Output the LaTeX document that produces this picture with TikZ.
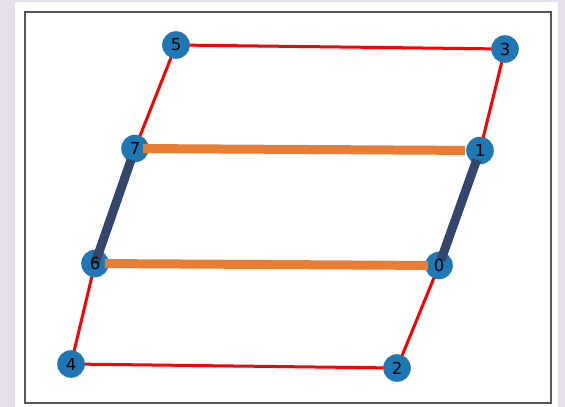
\documentclass[tikz,border=0pt]{standalone}
\usepackage{fontspec}
\setmainfont{DejaVu Sans}
\definecolor{lav}{HTML}{E4DFEB}
\definecolor{nodeblue}{HTML}{1F77B4}
\definecolor{darkedge}{HTML}{34466B}
\definecolor{orangeedge}{HTML}{E87D33}
\definecolor{framegray}{HTML}{555555}
\begin{document}
\begin{tikzpicture}[x=1pt,y=-1pt,
  rededge/.style={red,line width=3pt},
  darkbar/.style={darkedge,line width=9pt},
  orangebar/.style={orangeedge,line width=9pt},
  vlabel/.style={font=\fontsize{16.5}{16.5}\selectfont,inner sep=0pt}]
\useasboundingbox (0,0) rectangle (565,407);
\fill[lav] (0,0) rectangle (565,407);
\fill[white] (15,2) rectangle (558,407);
\draw[framegray,line width=1.4pt] (25,12) rectangle (551,403);
% coordinates
\coordinate (p0) at (439,265.5);
\coordinate (p1) at (480,150.5);
\coordinate (p2) at (397,368);
\coordinate (p3) at (505,49);
\coordinate (p4) at (71,364);
\coordinate (p5) at (176,45);
\coordinate (p6) at (95,263.5);
\coordinate (p7) at (135,148.5);
% red edges
\draw[rededge] (p5) -- (p3);
\draw[rededge] (p5) -- (p7);
\draw[rededge] (p3) -- (p1);
\draw[rededge] (p1) -- (p0);
\draw[rededge] (p7) -- (p6);
\draw[rededge] (p6) -- (p4);
\draw[rededge] (p4) -- (p2);
\draw[rededge] (p2) -- (p0);
% nodes
\foreach \i in {0,...,7} {\fill[nodeblue] (p\i) circle (13.8);}
% highlighted edges
\draw[orangebar,shorten <=8pt,shorten >=15pt] (p7) -- (p1);
\draw[orangebar,shorten <=10pt,shorten >=11pt] (p6) -- (p0);
\draw[darkbar,shorten <=12pt,shorten >=0pt] (p7) -- (p6);
\draw[darkbar,shorten <=10pt,shorten >=6pt] (p1) -- (p0);
% labels
\foreach \i in {0,...,7} {\node[vlabel] (n\i) at (p\i) {\i};}
\end{tikzpicture}
\end{document}
